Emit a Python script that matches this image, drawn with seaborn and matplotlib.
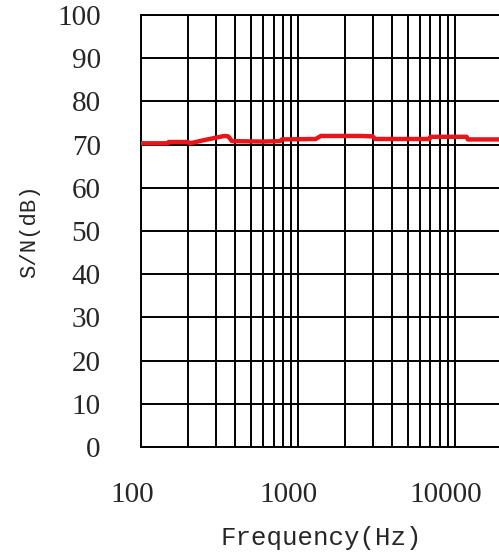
import numpy as np
import pandas as pd
import matplotlib
matplotlib.use("Agg")
import matplotlib.pyplot as plt
import matplotlib.transforms as mtransforms
import seaborn as sns
from matplotlib.ticker import LogLocator, FixedLocator, NullFormatter

freq_hz = [100, 148, 150, 200, 205, 250, 300, 340, 360, 380, 600, 770, 790,
           1300, 1400, 2500, 3000, 3100, 5000, 6900, 7000, 11900, 12100, 20000]
snr_db = [70.3, 70.3, 70.6, 70.6, 70.3, 71.0, 71.6, 72.0, 71.9, 70.8, 70.7, 70.8, 71.2,
          71.3, 72.0, 72.0, 71.9, 71.3, 71.3, 71.3, 71.8, 71.8, 71.2, 71.2]
x_ticks = [100, 1000, 10000]
x_tick_labels = ["100", "1000", "10000"]
y_ticks = [0, 10, 20, 30, 40, 50, 60, 70, 80, 90, 100]

df = pd.DataFrame({"freq": freq_hz, "snr": snr_db})

sns.set_style("white")
plt.rcParams["font.family"] = ["Liberation Serif", "DejaVu Serif"]

fig = plt.figure(figsize=(4.99, 5.58), dpi=100)
ax = fig.add_axes([141 / 499, 111 / 558, 361 / 499, 432 / 558])

sns.lineplot(data=df, x="freq", y="snr", ax=ax, color="#e8161b", linewidth=3.2,
             zorder=5)

ax.set_xscale("log")
ax.set_xlim(100, 20000)
ax.set_ylim(0, 100)

ax.xaxis.set_major_locator(FixedLocator(x_ticks))
ax.set_xticklabels(x_tick_labels)
ax.xaxis.set_minor_locator(LogLocator(base=10, subs=np.arange(2, 10)))
ax.xaxis.set_minor_formatter(NullFormatter())
ax.set_yticks(y_ticks)

ax.grid(True, which="both", axis="x", color="black", linewidth=1.4)
ax.grid(True, which="major", axis="y", color="black", linewidth=1.4)
ax.set_axisbelow(True)
for s in ax.spines.values():
    s.set_color("black")
    s.set_linewidth(1.4)

ax.tick_params(axis="both", which="both", length=0, labelsize=21)
ax.tick_params(axis="y", pad=29)
ax.tick_params(axis="x", pad=25)

# labels in the original sit a bit left of their grid lines
shift = mtransforms.ScaledTranslation(-9 / 100, 0, fig.dpi_scale_trans)
for lbl in ax.get_xticklabels():
    lbl.set_transform(lbl.get_transform() + shift)

ax.set_xlabel("Frequency(Hz)", fontsize=18.5, family=["Liberation Mono"], labelpad=13)
ax.set_ylabel("S/N(dB)", fontsize=16, family=["Liberation Mono"], labelpad=12)

fig.savefig("out.png", dpi=100)
